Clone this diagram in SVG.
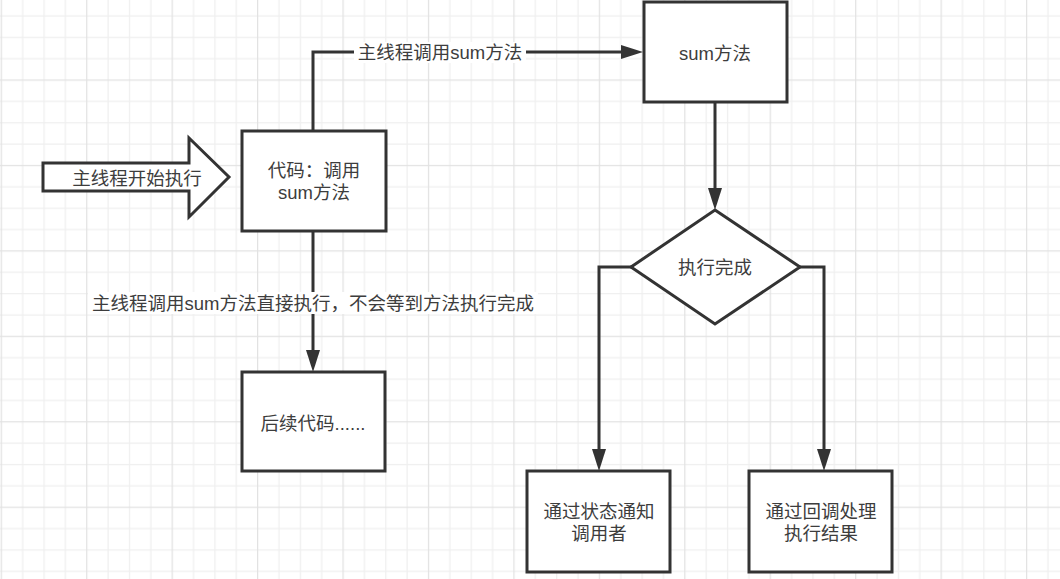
<svg xmlns="http://www.w3.org/2000/svg" width="1060" height="579" viewBox="0 0 1060 579">
<defs>
<pattern id="grid" patternUnits="userSpaceOnUse" x="0.7" y="-6" width="85.44" height="85.44">
<rect x="0" y="0" width="85.44" height="85.44" fill="#ffffff"/>
<g fill="#efefef">
<rect x="21.36" y="0" width="1.2" height="85.44"/>
<rect x="42.72" y="0" width="1.2" height="85.44"/>
<rect x="64.08" y="0" width="1.2" height="85.44"/>
<rect x="0" y="21.36" width="85.44" height="1.2"/>
<rect x="0" y="42.72" width="85.44" height="1.2"/>
<rect x="0" y="64.08" width="85.44" height="1.2"/>
</g>
<g fill="#e2e2e2">
<rect x="0" y="0" width="1.2" height="85.44"/>
<rect x="0" y="0" width="85.44" height="1.2"/>
</g>
</pattern>
<marker id="arrow" markerUnits="userSpaceOnUse" markerWidth="22" markerHeight="14" refX="0" refY="7" orient="auto" viewBox="0 0 22 14">
<path d="M0,0 L22,7 L0,14 Z" fill="#333333"/>
</marker>
</defs>
<style>
.shape{fill:#ffffff;stroke:#333333;stroke-width:3}
.edge{fill:none;stroke:#333333;stroke-width:3;marker-end:url(#arrow)}
.t{font-family:"Liberation Sans","Noto Sans CJK SC",sans-serif;font-size:18.5px;fill:#3d3d3d;text-anchor:middle;dominant-baseline:central}
.lbl{fill:#ffffff}
</style>
<rect x="0" y="0" width="1060" height="579" fill="url(#grid)"/>

<g id="connectors">
<path class="edge" d="M313,131 V52 H621"/>
<path class="edge" d="M313,231 V350"/>
<path class="edge" d="M715,102 V188"/>
<path class="edge" d="M631,267 H599 V449"/>
<path class="edge" d="M800,267 H824 V449"/>
<g id="label-call">
<rect class="lbl" x="354" y="42" width="172" height="21"/>
<text class="t" x="440" y="52">主线程调用sum方法</text>
</g>
<g id="label-direct">
<rect class="lbl" x="88" y="292" width="450" height="22"/>
<text class="t" x="313" y="303">主线程调用sum方法直接执行，不会等到方法执行完成</text>
</g>
</g>

<g id="start">
<polygon class="shape" points="43,163 189,163 189,138 229,177 189,217 189,191 43,191"/>
<text class="t" x="137" y="178">主线程开始执行</text>
</g>

<g id="code">
<rect class="shape" x="242" y="131" width="144" height="100"/>
<text class="t" x="314" y="170">代码：调用</text>
<text class="t" x="314" y="192">sum方法</text>
</g>

<g id="sum">
<rect class="shape" x="644" y="2" width="143" height="100"/>
<text class="t" x="715" y="53">sum方法</text>
</g>

<g id="done">
<polygon class="shape" points="715,210 800,267 715,324 631,267"/>
<text class="t" x="715" y="267">执行完成</text>
</g>

<g id="next">
<rect class="shape" x="242" y="372" width="143" height="99"/>
<text class="t" x="313" y="423">后续代码......</text>
</g>

<g id="notify">
<rect class="shape" x="527" y="471" width="143" height="101"/>
<text class="t" x="599" y="511">通过状态通知</text>
<text class="t" x="599" y="533">调用者</text>
</g>

<g id="callback">
<rect class="shape" x="749" y="471" width="143" height="101"/>
<text class="t" x="821" y="511">通过回调处理</text>
<text class="t" x="821" y="533">执行结果</text>
</g>
</svg>
